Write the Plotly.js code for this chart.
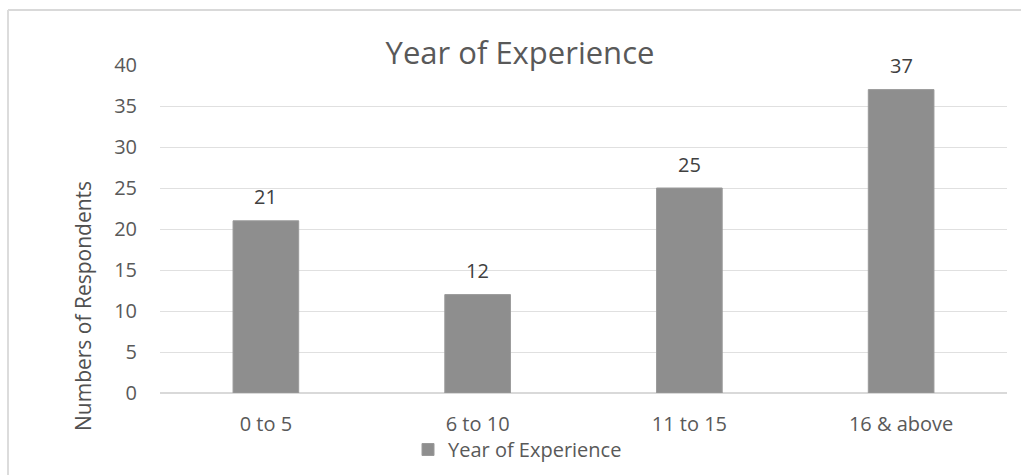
<!DOCTYPE html>
<html>
<head>
<meta charset="utf-8">
<script src="https://cdn.plot.ly/plotly-3.0.1.min.js"></script>
<style>
html,body{margin:0;padding:0;background:#fff;}
#chart{width:1021px;height:475px;}
</style>
</head>
<body>
<div id="chart"></div>
<script>
const categories = ["0 to 5", "6 to 10", "11 to 15", "16 & above"];
const respondents = [21, 12, 25, 37];
const seriesName = "Year of Experience";
const chartTitle = "Year of Experience";
const yAxisTitle = "Numbers of Respondents";
const yTicks = [0, 5, 10, 15, 20, 25, 30, 35, 40];

const FONT = "Open Sans, Lato, sans-serif";
const barColor = "#8e8e8e";

const trace = {
  type: "bar",
  x: categories,
  y: respondents,
  name: seriesName,
  marker: {color: barColor, line: {color: "#9a9a9a", width: 1}},
  showlegend: true,
  hoverinfo: "x+y"
};

const labelAnnotations = categories.map((c, i) => ({
  x: c, y: respondents[i], xref: "x", yref: "y",
  text: String(respondents[i]), showarrow: false,
  yanchor: "middle", yshift: 24,
  font: {family: FONT, size: 20, color: "#404040"}
}));

const layout = {
  width: 1021, height: 475,
  margin: {l: 160, r: 14, t: 65, b: 82, autoexpand: false},
  paper_bgcolor: "#ffffff", plot_bgcolor: "#ffffff",
  font: {family: FONT, color: "#595959"},
  title: {
    text: chartTitle,
    font: {family: FONT, size: 31, color: "#595959"},
    x: (520 - 160) / 847, xref: "paper", xanchor: "center",
    y: 1 - 53/475, yref: "container", yanchor: "middle"
  },
  bargap: 0.69,
  xaxis: {
    type: "category",
    showgrid: false, zeroline: false, showline: false,
    ticks: "", ticklabelstandoff: 17,
    tickfont: {family: FONT, size: 20, color: "#595959"}
  },
  yaxis: {
    range: [0, 40], tickvals: yTicks,
    showgrid: true, gridcolor: "#e0e0e0", gridwidth: 1,
    zeroline: true, zerolinecolor: "#d9d9d9", zerolinewidth: 2,
    showline: false, ticks: "", ticklabelstandoff: 22,
    tickfont: {family: FONT, size: 20, color: "#595959"},
    fixedrange: true
  },
  legend: {
    orientation: "h", x: (408 - 160) / 847, xanchor: "left",
    y: (393 - 449.5) / 328, yanchor: "middle",
    font: {family: FONT, size: 20, color: "#595959"},
    itemwidth: 30, bgcolor: "rgba(0,0,0,0)"
  },
  annotations: labelAnnotations.concat([{
    text: yAxisTitle, xref: "paper", yref: "paper",
    x: (83 - 160) / 847, y: (393 - 306) / 328,
    textangle: -90, showarrow: false,
    xanchor: "center", yanchor: "middle",
    font: {family: FONT, size: 21, color: "#505050"}
  }]),
  shapes: [
    {
      type: "line", xref: "paper", yref: "paper",
      x0: (8 - 160) / 847, x1: (1021 - 160) / 847,
      y0: (393 - 10) / 328, y1: (393 - 10) / 328,
      line: {color: "#d9d9d9", width: 2}, layer: "below"
    },
    {
      type: "line", xref: "paper", yref: "paper",
      x0: (8 - 160) / 847, x1: (8 - 160) / 847,
      y0: (393 - 10) / 328, y1: (393 - 476) / 328,
      line: {color: "#dcdcdc", width: 2}, layer: "below"
    }
  ]
};

Plotly.newPlot("chart", [trace], layout, {displayModeBar: false, staticPlot: true});
</script>
</body>
</html>
